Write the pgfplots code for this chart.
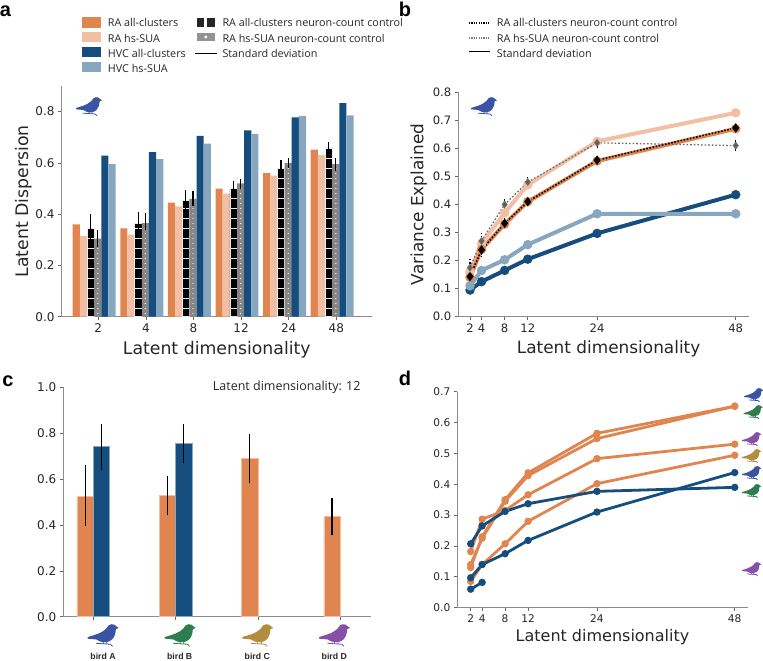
\documentclass[border=0pt]{standalone}
\usepackage{fontspec}
\usepackage{pgfplots}
\pgfplotsset{compat=1.18}
\usetikzlibrary{patterns}
\setmainfont{DejaVu Sans}
\newfontfamily\lgf{Open Sans}
\newfontfamily\arial{Liberation Sans}
\definecolor{RAall}{HTML}{E0854F}
\definecolor{RAhs}{HTML}{F2BFA4}
\definecolor{HVCall}{HTML}{154E7E}
\definecolor{HVChs}{HTML}{87A6BF}
\definecolor{txt}{HTML}{262626}
\definecolor{spine}{HTML}{8C8C8C}
\definecolor{bBlue}{HTML}{3A53A4}
\definecolor{bGreen}{HTML}{2E7D4F}
\definecolor{bBrown}{HTML}{B08D3F}
\definecolor{bPurple}{HTML}{8750A8}
\pgfdeclarepatternformonly{hlines10}{\pgfqpoint{-1pt}{-1pt}}{\pgfqpoint{6pt}{11pt}}{\pgfqpoint{5pt}{10pt}}{
  \pgfsetlinewidth{0.9pt}
  \pgfpathmoveto{\pgfqpoint{-1pt}{3pt}}\pgfpathlineto{\pgfqpoint{6pt}{3pt}}\pgfusepath{stroke}}
\pgfdeclarepatternformonly{dotcol}{\pgfqpoint{-5pt}{0pt}}{\pgfqpoint{42.6pt}{5pt}}{\pgfqpoint{47.6pt}{5pt}}{
  \pgfpathcircle{\pgfqpoint{2.6pt}{2.5pt}}{0.7pt}\pgfusepath{fill}}
\newcommand\bird[4]{%
  \begin{scope}[shift={(#1,{661-#2})},scale=#3/25.7,transform shape]
  \fill[#4] (0,-11) -- (7.3,-8.7) .. controls (11,-7.5) and (14,-5.5) .. (15.7,-3.7)
    .. controls (17,-1.5) and (18,-0.2) .. (20,-0.2) .. controls (22,-0.2) and (23.3,-0.8) .. (23.6,-1.6)
    -- (26,-3.3) -- (23.6,-4.4) .. controls (23.5,-8) and (22.5,-11) .. (20.5,-13)
    .. controls (18,-15.6) and (13,-16) .. (10,-14.5) -- (7.3,-13) -- (0,-12.3) -- cycle;
  \draw[#4,line width=.8pt] (7,-16.2) -- (19,-17) -- (21,-18.7) (13,-14.5) -- (13,-16.5) (16,-14.5) -- (16,-17);
  \end{scope}}
\pgfplotsset{
  panel/.style={
    scale only axis, axis lines=left, enlargelimits=false,
    axis line style={-,draw=spine,line width=1pt},
    tick style={color=txt!70,line width=.7pt},
    major tick length=3.5pt, tick align=outside,
    tick label style={font=\fontsize{12}{14}\selectfont,text=txt},
    label style={font=\fontsize{17.3}{20}\selectfont,text=txt},
    yticklabel style={/pgf/number format/fixed,/pgf/number format/fixed zerofill,/pgf/number format/precision=1},
    /pgf/number format/assume math mode=true,
    clip=false,
  },
  barA/.style={ybar,bar width=7.17pt,draw=none},
  ebs/.style={error bars/.cd,y dir=both,y explicit,error mark=none,error bar style={black,line width=1.1pt,xshift=#1}},
  ln/.style 2 args={#2,line width=#1,mark=*,mark options={solid,draw=none,fill=#2}},
}
\begin{document}
\begin{tikzpicture}[x=1pt,y=1pt]
\useasboundingbox (0,0) rectangle (763,661);
% panel letters
\foreach \t/\x/\y in {a/5.5/11,b/405/9,c/8/381,d/405/378}
  \node[font=\arial\bfseries\fontsize{20}{22}\selectfont,text=black] at (\x,{661-\y}) {\t};
% ---- panel a
\begin{axis}[panel, at={(61.5pt,344.3pt)}, anchor=south west, width=310.5pt, height=230.7pt,
  xmin=-0.773, xmax=5.75, ymin=0, ymax=0.9,
  xtick={0,1,2,3,4,5}, xticklabels={2,4,8,12,24,48},
  ytick={0,0.2,0.4,0.6,0.8},
  xlabel={Latent dimensionality}, ylabel={Latent Dispersion},
  xlabel shift=1.5pt, ylabel shift=-4pt]
\addplot[barA,fill=RAall,bar shift=-22pt] coordinates {(0,0.36)(1,0.345)(2,0.445)(3,0.50)(4,0.56)(5,0.652)};
\addplot[barA,fill=RAhs,bar shift=-14.85pt] coordinates {(0,0.315)(1,0.32)(2,0.43)(3,0.48)(4,0.55)(5,0.63)};
\addplot[barA,fill=black,postaction={pattern=hlines10,pattern color=white!85!gray},bar shift=-7.7pt,draw=white!85!gray,line width=.5pt,
  ebs=-7.7pt] coordinates {
  (0,0.345) += (0,0.055) -= (0,0.04)
  (1,0.365) += (0,0.042) -= (0,0.04)
  (2,0.455) += (0,0.039) -= (0,0.045)
  (3,0.50) += (0,0.03) -= (0,0.03)
  (4,0.58) += (0,0.03) -= (0,0.03)
  (5,0.66) += (0,0.022) -= (0,0.02)};
\addplot[barA,fill=gray!95,postaction={pattern=dotcol,pattern color=white!90!gray},bar shift=-0.5pt,
  ebs=-0.5pt] coordinates {
  (0,0.305) += (0,0.033) -= (0,0.032)
  (1,0.365) += (0,0.038) -= (0,0.025)
  (2,0.46) += (0,0.03) -= (0,0.027)
  (3,0.52) += (0,0.016) -= (0,0.02)
  (4,0.60) += (0,0.02) -= (0,0.02)
  (5,0.595) += (0,0.025) -= (0,0.025)};
\addplot[barA,fill=HVCall,bar shift=6.6pt] coordinates {(0,0.628)(1,0.642)(2,0.705)(3,0.727)(4,0.778)(5,0.833)};
\addplot[barA,fill=HVChs,bar shift=13.8pt] coordinates {(0,0.595)(1,0.615)(2,0.675)(3,0.712)(4,0.783)(5,0.785)};
\end{axis}
\bird{76}{97}{25.7}{bBlue}
% legend a
\begin{scope}[every node/.style={anchor=west,font=\lgf\fontsize{10.8}{12}\selectfont,text=txt,inner sep=0pt}]
\fill[RAall] (82,{661-17.3}) rectangle (101,{661-28});
\fill[RAhs] (82,{661-32}) rectangle (101,{661-42.3});
\fill[HVCall] (82,{661-47}) rectangle (101,{661-57.3});
\fill[HVChs] (82,{661-61.7}) rectangle (101,{661-72});
\node at (107.7,{661-22.7}) {RA all-clusters};
\node at (107.7,{661-38.3}) {RA hs-SUA};
\node at (107.7,{661-53.7}) {HVC all-clusters};
\node at (107.7,{661-68.3}) {HVC hs-SUA};
\fill[black!85] (196.7,{661-18.3}) rectangle (204.3,{661-26.7});
\fill[black!85] (207,{661-18.3}) rectangle (215,{661-26.7});
\fill[gray!85] (196.7,{661-32.7}) rectangle (215,{661-41.3});
\fill[white] (205.8,{661-37}) circle (1.7);
\draw[black,line width=1pt] (195,{661-53.3}) -- (216.7,{661-53.3});
\node at (222.3,{661-22.7}) {RA all-clusters neuron-count control};
\node at (222.3,{661-38.3}) {RA hs-SUA neuron-count control};
\node at (222.3,{661-53.7}) {Standard deviation};
\end{scope}
% ---- panel b
\begin{axis}[panel, at={(458.3pt,344.3pt)}, anchor=south west, width=290.7pt, height=224.4pt,
  xmin=-0.026, xmax=50.3, ymin=0, ymax=0.8,
  tick label style={font=\fontsize{11.6}{14}\selectfont,text=txt},
  label style={font=\fontsize{16.9}{20}\selectfont,text=txt},
  xlabel style={xshift=5pt},
  xtick={2,4,8,12,24,48}, ytick={0,0.1,0.2,0.3,0.4,0.5,0.6,0.7,0.8},
  xlabel={Latent dimensionality}, ylabel={Variance Explained},
  xlabel shift=1.5pt, ylabel shift=-1pt]
\addplot[ln={4pt}{HVCall},mark size=2.6pt] coordinates {(2,0.095)(4,0.125)(8,0.165)(12,0.205)(24,0.297)(48,0.435)};
\addplot[ln={4pt}{HVChs},mark size=2.6pt] coordinates {(2,0.11)(4,0.165)(8,0.203)(12,0.257)(24,0.367)(48,0.367)};
\addplot[ln={4pt}{RAhs},mark size=2.6pt] coordinates {(2,0.16)(4,0.26)(8,0.37)(12,0.47)(24,0.625)(48,0.727)};
\addplot[ln={4pt}{RAall},mark size=2.6pt] coordinates {(2,0.14)(4,0.24)(8,0.33)(12,0.41)(24,0.555)(48,0.67)};
\addplot[gray!85!black,line width=1.3pt,dash pattern=on 1.6pt off 2pt,mark=diamond*,mark size=3pt,mark options={solid,fill=gray!70!black,draw=none},ebs=0pt]
  coordinates {(2,0.175) +- (0,0.03)(4,0.27) +- (0,0.03)(8,0.40) +- (0,0.025)(12,0.48) +- (0,0.025)(24,0.62) +- (0,0.025)(48,0.61) +- (0,0.02)};
\addplot[black,line width=1.6pt,dash pattern=on 1.6pt off 1.6pt,mark=diamond*,mark size=3.4pt,mark options={solid,fill=black,draw=none},ebs=0pt]
  coordinates {(2,0.143) +- (0,0.02)(4,0.238) +- (0,0.025)(8,0.333) +- (0,0.02)(12,0.41) +- (0,0.02)(24,0.558) +- (0,0.012)(48,0.673) +- (0,0.012)};
\end{axis}
\bird{471}{97}{25.7}{bBlue}
\begin{scope}[every node/.style={anchor=west,font=\lgf\fontsize{10.8}{12}\selectfont,text=txt,inner sep=0pt}]
\draw[black,line width=2pt,dash pattern=on 1.2pt off 1.2pt] (469,{661-22.7}) -- (490,{661-22.7});
\draw[gray,line width=2pt,dash pattern=on 1.2pt off 1.2pt] (469,{661-38}) -- (490,{661-38});
\draw[black,line width=1pt] (469,{661-52}) -- (490,{661-52});
\node at (496.7,{661-22.7}) {RA all-clusters neuron-count control};
\node at (496.7,{661-38.3}) {RA hs-SUA neuron-count control};
\node at (496.7,{661-53.7}) {Standard deviation};
\end{scope}
% ---- panel c
\begin{axis}[panel, at={(63.3pt,44.3pt)}, anchor=south west, width=307.7pt, height=229.2pt,
  xmin=-0.3645, xmax=3.374, ymin=0, ymax=1,
  xtick={0,1,2,3}, xticklabels={}, ytick={0,0.2,0.4,0.6,0.8,1.0}]
\addplot[ybar,bar width=16.4pt,fill=RAall,draw=RAhs,line width=.5pt,bar shift=-8.2pt,ebs=-8.2pt] coordinates {
  (0,0.525) += (0,0.135) -= (0,0.13)
  (1,0.53) += (0,0.085) -= (0,0.085)
  (2,0.69) += (0,0.105) -= (0,0.105)
  (3,0.437) += (0,0.083) -= (0,0.082)};
\addplot[ybar,bar width=16.4pt,fill=HVCall,draw=HVChs,line width=.5pt,bar shift=8.2pt,ebs=8.2pt] coordinates {
  (0,0.742) += (0,0.098) -= (0,0.102)
  (1,0.755) += (0,0.085) -= (0,0.085)};
\end{axis}
\node[anchor=west,font=\lgf\fontsize{12.5}{14}\selectfont,text=txt,inner sep=0pt] at (212.7,{661-387.7}) {Latent dimensionality: 12};
\bird{87.7}{624}{30.6}{bBlue}
\bird{164.7}{624}{30.6}{bGreen}
\bird{242.3}{624}{30.6}{bBrown}
\bird{319}{624}{30.6}{bPurple}
\foreach \t/\x in {bird A/103,bird B/179.7,bird C/257.3,bird D/334.3}
  \node[font=\arial\bfseries\fontsize{8.7}{10}\selectfont,text=txt,inner sep=0pt] at (\x,{661-656.5}) {\t};
% ---- panel d
\begin{axis}[panel, at={(457.3pt,53.3pt)}, anchor=south west, width=290.4pt, height=216pt,
  xmin=-0.33, xmax=50.26, ymin=0, ymax=0.7,
  tick label style={font=\fontsize{10.6}{13}\selectfont,text=txt},
  label style={font=\fontsize{16}{19}\selectfont,text=txt},
  xtick={2,4,8,12,24,48}, ytick={0,0.1,0.2,0.3,0.4,0.5,0.6,0.7},
  xlabel={Latent dimensionality}, xlabel shift=0pt]
\addplot[ln={2.8pt}{RAall},mark size=2.2pt] coordinates {(2,0.13)(4,0.23)(8,0.35)(12,0.437)(24,0.565)(48,0.653)};
\addplot[ln={2.8pt}{RAall},mark size=2.2pt] coordinates {(2,0.14)(4,0.225)(8,0.345)(12,0.428)(24,0.548)(48,0.653)};
\addplot[ln={2.8pt}{RAall},mark size=2.2pt] coordinates {(2,0.182)(4,0.287)(8,0.315)(12,0.366)(24,0.483)(48,0.53)};
\addplot[ln={2.8pt}{RAall},mark size=2.2pt] coordinates {(2,0.085)(4,0.14)(8,0.207)(12,0.28)(24,0.402)(48,0.494)};
\addplot[ln={2.8pt}{HVCall},mark size=2.2pt] coordinates {(2,0.097)(4,0.14)(8,0.175)(12,0.218)(24,0.31)(48,0.438)};
\addplot[ln={2.8pt}{HVCall},mark size=2.2pt] coordinates {(2,0.207)(4,0.265)(8,0.312)(12,0.337)(24,0.377)(48,0.39)};
\addplot[ln={2.8pt}{HVCall},mark size=2.2pt] coordinates {(2,0.06)(4,0.082)};
\end{axis}
\bird{744}{388}{19}{bBlue}
\bird{743.5}{405}{19}{bGreen}
\bird{742}{432}{19}{bPurple}
\bird{742}{449}{19}{bBrown}
\bird{742}{466}{19}{bBlue}
\bird{742}{484}{19}{bGreen}
\bird{742}{562}{19}{bPurple}
\end{tikzpicture}
\end{document}
